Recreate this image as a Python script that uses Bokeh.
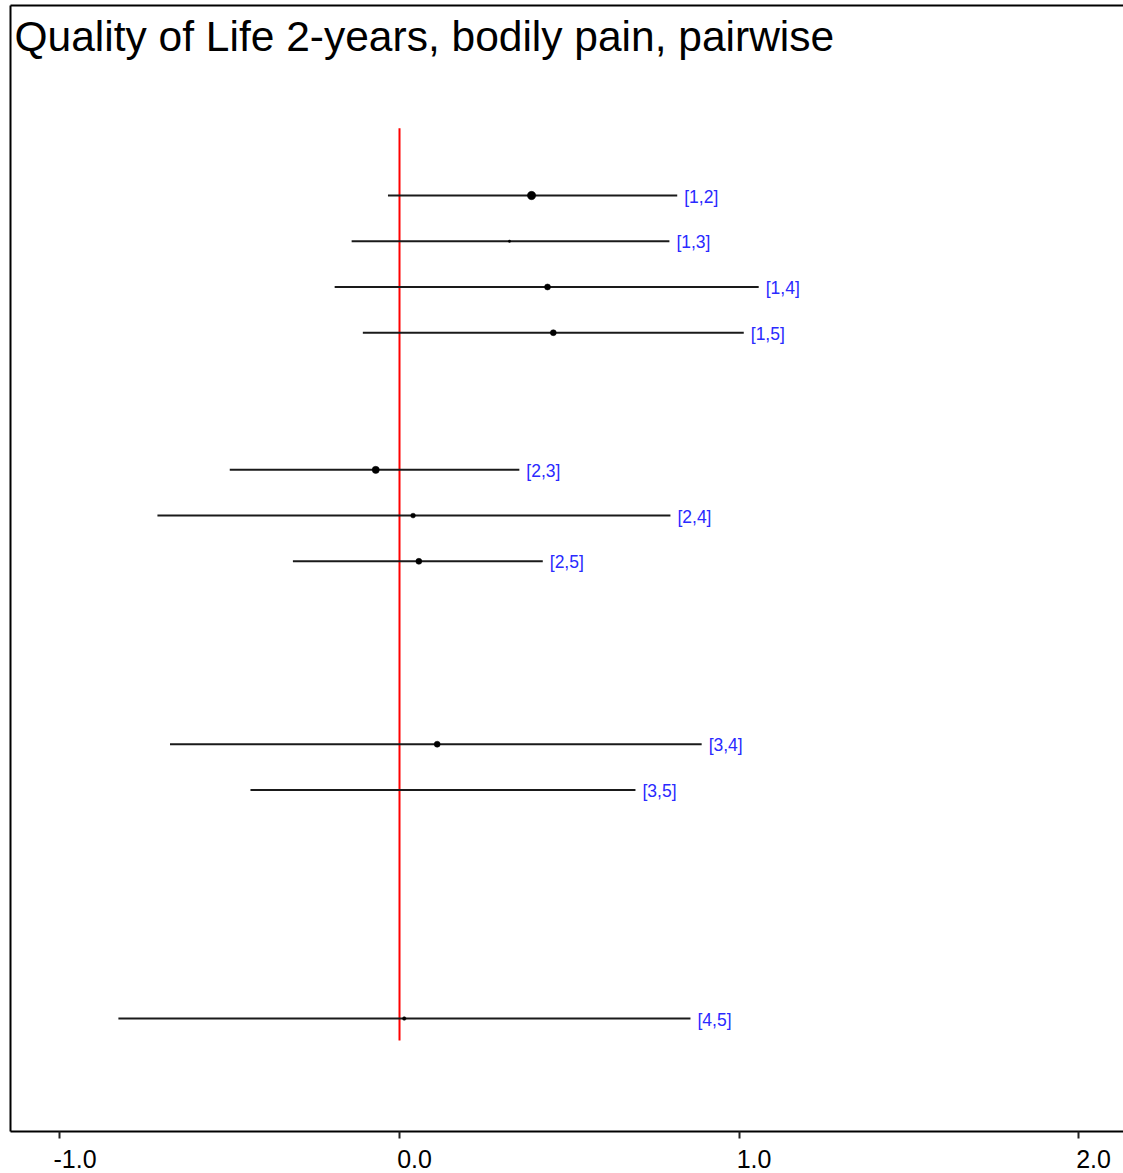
from bokeh.plotting import figure
from bokeh.models import Range1d, LinearAxis, FixedTicker, Label, ColumnDataSource, PrintfTickFormatter
from bokeh.core.properties import value
from bokeh.embed import file_html
from bokeh.resources import INLINE

# ---- data ----
title_text = "Quality of Life 2-years, bodily pain, pairwise"
comparisons = ["[1,2]", "[1,3]", "[1,4]", "[1,5]", "[2,3]", "[2,4]", "[2,5]", "[3,4]", "[3,5]", "[4,5]"]
first = [1, 1, 1, 1, 2, 2, 2, 3, 3, 4]
second = [2, 3, 4, 5, 3, 4, 5, 4, 5, 5]
estimate = [0.389, 0.324, 0.436, 0.453, -0.070, 0.040, 0.057, 0.111, 0.128, 0.014]
lower = [-0.034, -0.141, -0.191, -0.108, -0.500, -0.713, -0.314, -0.676, -0.439, -0.828]
upper = [0.818, 0.795, 1.058, 1.014, 0.353, 0.798, 0.422, 0.890, 0.695, 0.857]
weight = [7, 2, 5, 5, 6, 4, 5, 5, 0, 3]
x_ticks = [-1.0, 0.0, 1.0, 2.0]
n_treat = 5

# row position: each first-treatment group gets n_treat+1 slots
row = [(n_treat + 1) * (a - 1) + (b - a) for a, b in zip(first, second)]

source = ColumnDataSource(dict(comp=comparisons, est=estimate, lo=lower, hi=upper,
                               row=row, size=[w * 1.2 for w in weight]))

# ---- layout ----
X0, X1 = -1.1458, 2.1325
Y_BOTTOM, Y_TOP = 21.47, -3.156
label_shift = 0.0442  # tick labels sit slightly right of their ticks

p = figure(width=1123, height=1173,
           x_range=Range1d(X0, X1), y_range=Range1d(Y_BOTTOM, Y_TOP),
           output_backend="svg", toolbar_location=None,
           x_axis_location=None, y_axis_location=None,
           min_border_left=10, min_border_right=0, min_border_top=5, min_border_bottom=42)
p.grid.visible = False
p.outline_line_color = None
p.background_fill_color = "white"
p.border_fill_color = "white"

def bare_axis():
    ax = LinearAxis(ticker=FixedTicker(ticks=[], minor_ticks=[]))
    ax.major_tick_line_color = None
    ax.minor_tick_line_color = None
    ax.major_label_standoff = 0
    ax.major_label_text_color = None
    ax.axis_line_color = "black"
    ax.axis_line_width = 2
    return ax

p.add_layout(bare_axis(), "left")
p.add_layout(bare_axis(), "above")

# tick marks (at the true positions)
xt = LinearAxis(ticker=FixedTicker(ticks=x_ticks, minor_ticks=[]))
xt.major_tick_out = 7
xt.major_tick_in = 0
xt.major_tick_line_width = 2
xt.major_tick_line_color = "#222222"
xt.minor_tick_line_color = None
xt.major_label_text_color = None
xt.major_label_standoff = 0
xt.axis_line_color = "black"
xt.axis_line_width = 2
p.add_layout(xt, "below")

# tick labels (slightly to the right of the ticks, as in the reference)
p.extra_x_ranges = {"labels": Range1d(X0 - label_shift, X1 - label_shift)}
xl = LinearAxis(x_range_name="labels", ticker=FixedTicker(ticks=x_ticks, minor_ticks=[]),
                formatter=PrintfTickFormatter(format="%.1f"))
xl.axis_line_color = None
xl.major_tick_line_color = None
xl.minor_tick_line_color = None
xl.major_label_text_font = "Liberation Sans"
xl.major_label_text_font_size = "25px"
xl.major_label_text_color = "black"
xl.major_label_standoff = 5
p.add_layout(xl, "below")

# reference line at zero
p.segment(x0=[0], y0=[-0.47], x1=[0], y1=[19.48], line_color="red", line_width=2)

# intervals, estimates, labels
p.segment(x0="lo", y0="row", x1="hi", y1="row", source=source, line_color="#1a1a1a", line_width=2)
p.scatter(x="est", y="row", size="size", source=source, marker="circle",
          fill_color="black", line_color="black", line_width=0.5)
p.text(x="hi", y="row", text="comp", source=source, x_offset=7, y_offset=1,
       text_baseline="middle", text_align="left",
       text_font=value("Liberation Sans"), text_font_size="17.5px", text_color="#2a2aff")

p.add_layout(Label(x=X0, y=Y_TOP, x_offset=4, y_offset=-7, text=title_text,
                   text_baseline="top", text_align="left",
                   text_font="Liberation Sans", text_font_size="42.5px", text_color="black"))

open("out.html", "w").write(file_html(p, INLINE))
